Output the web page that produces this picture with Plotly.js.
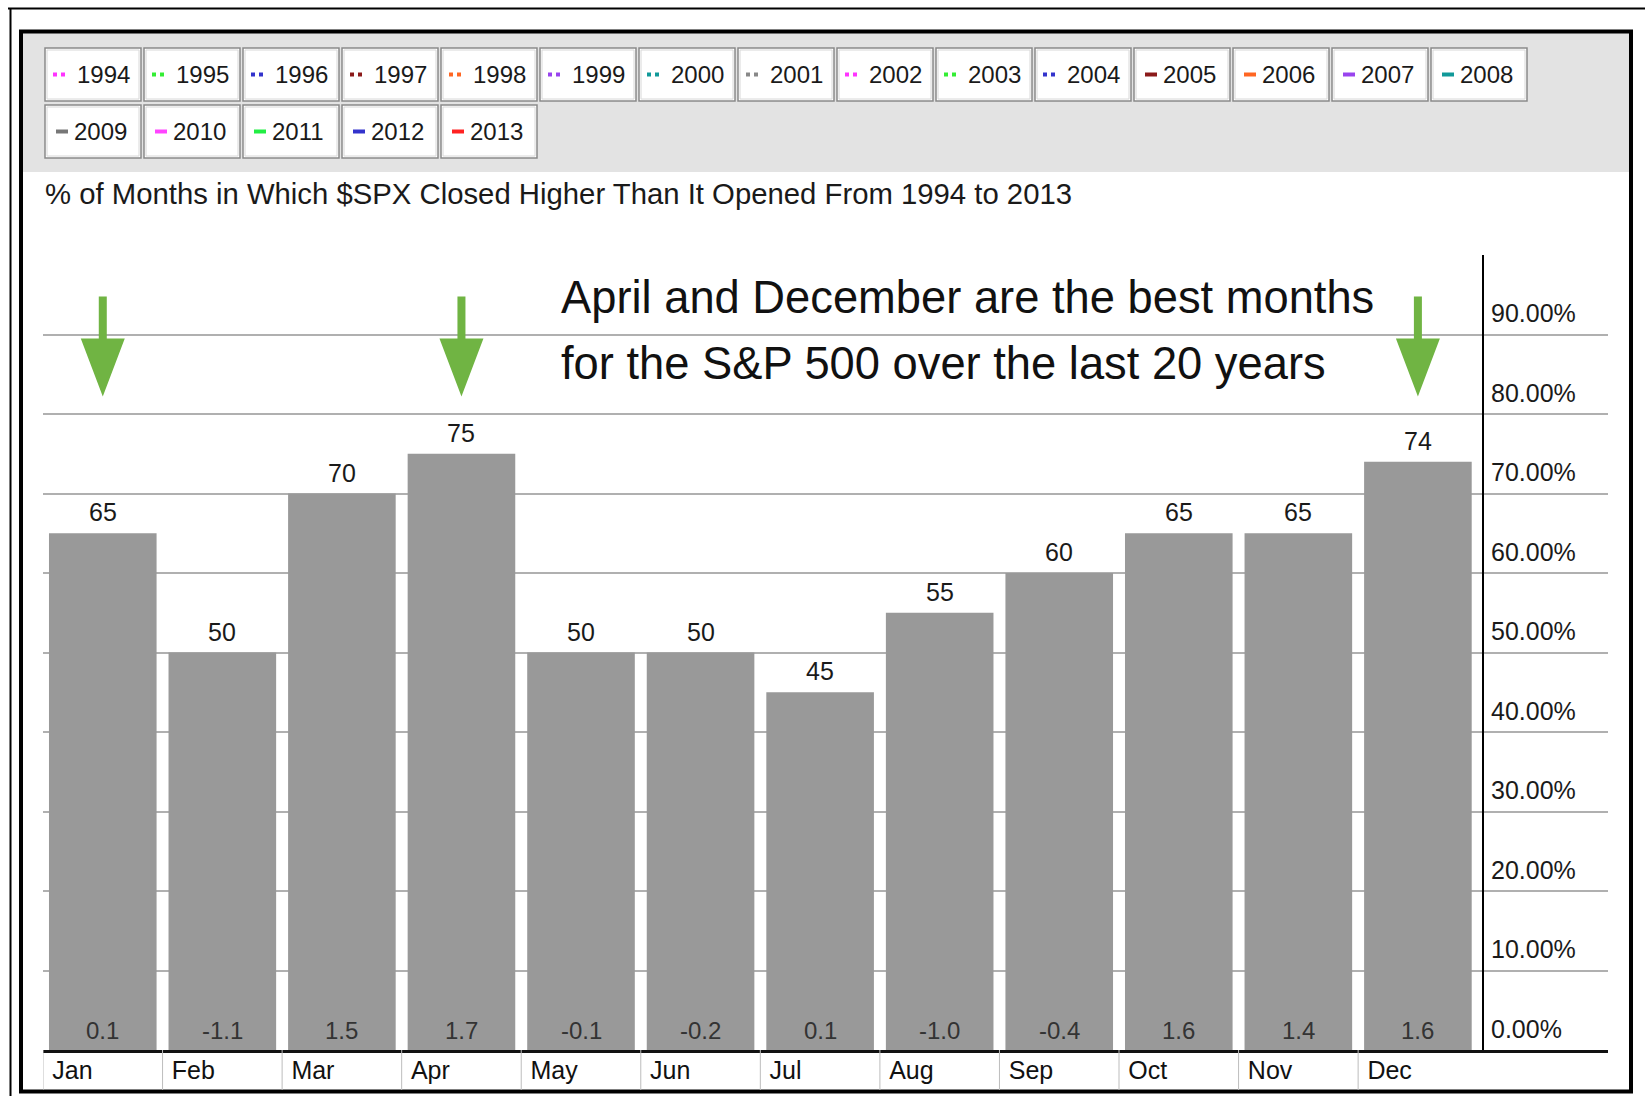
<!DOCTYPE html>
<html><head><meta charset="utf-8">
<script src="https://cdn.plot.ly/plotly-3.0.1.min.js"></script>
<style>html,body{margin:0;padding:0;background:#fff;} #chart{width:1645px;height:1096px;}</style>
</head><body><div id="chart"></div>
<script>
// ---- data ----
const months = ['Jan','Feb','Mar','Apr','May','Jun','Jul','Aug','Sep','Oct','Nov','Dec'];
const pctHigher = [65,50,70,75,50,50,45,55,60,65,65,74];
const avgChange = [0.1,-1.1,1.5,1.7,-0.1,-0.2,0.1,-1.0,-0.4,1.6,1.4,1.6];
const yTickVals = [0,10,20,30,40,50,60,70,80,90];
const yTickText = yTickVals.map(v => v.toFixed(2) + '%');
const legendYears = ['1994','1995','1996','1997','1998','1999','2000','2001','2002','2003','2004','2005','2006','2007','2008','2009','2010','2011','2012','2013'];
const legendColors = ['#ff33ff','#33ee33','#3333cc','#8b1a1a','#ff6622','#9944ee','#119999','#888888','#ff33ff','#33ee33','#3333cc','#8b1a1a','#ff6622','#9944ee','#119999','#777777','#ff44ff','#22ee44','#3333cc','#ff2222'];
const legendStyles = ['dot','dot','dot','dot','dot','dot','dot','dot','dot','dot','dot','solid','solid','solid','solid','solid','solid','solid','solid','solid'];
const arrowMonths = ['Jan','Apr','Dec'];
const titleText = '% of Months in Which $SPX Closed Higher Than It Opened From 1994 to 2013';
const noteLines = ['April and December are the best months','for the S&amp;P 500 over the last 20 years'];

// ---- geometry helpers ----
const W=1645,H=1096,L=43,R=37,T=255,B=46;
const PW=W-L-R, PH=H-T-B;
const px = x => (x-L)/PW;
const py = y => (H-B-y)/PH;
const FONT = 'Liberation Sans, Arial, Helvetica, sans-serif';

const shapes = [];
const annotations = [];

// outer thin lines
shapes.push({type:'line',xref:'paper',yref:'paper',x0:px(8),x1:px(1645),y0:py(8.5),y1:py(8.5),line:{color:'#000',width:2}});
shapes.push({type:'line',xref:'paper',yref:'paper',x0:px(10.5),x1:px(10.5),y0:py(8),y1:py(1096),line:{color:'#000',width:2}});
// legend band
shapes.push({type:'rect',xref:'paper',yref:'paper',x0:px(22),x1:px(1629),y0:py(33),y1:py(172),fillcolor:'#e3e3e3',line:{width:0},layer:'below'});
// thick frame
shapes.push({type:'rect',xref:'paper',yref:'paper',x0:px(21),x1:px(1631),y0:py(31.5),y1:py(1091.5),line:{color:'#000',width:4}});

// legend boxes
legendYears.forEach((yr,i)=>{
  const row = i<15?0:1, col = i<15?i:i-15;
  const x0 = 45 + 99*col;
  const y0 = row===0?48:105, y1 = row===0?101:158;
  const yc = (y0+y1)/2;
  shapes.push({type:'rect',xref:'paper',yref:'paper',x0:px(x0),x1:px(x0+96),y0:py(y0),y1:py(y1),fillcolor:'#ffffff',line:{color:'#8a8a8a',width:1.5}});
  shapes.push({type:'rect',xref:'paper',yref:'paper',x0:px(x0+2),x1:px(x0+94),y0:py(y0+2),y1:py(y1-2),fillcolor:'rgba(0,0,0,0)',line:{color:'#d8d8d8',width:1}});
  let tx;
  if(legendStyles[i]==='dot'){
    shapes.push({type:'rect',xref:'paper',yref:'paper',x0:px(x0+8),x1:px(x0+12),y0:py(yc-2),y1:py(yc+2),fillcolor:legendColors[i],line:{width:0}});
    shapes.push({type:'rect',xref:'paper',yref:'paper',x0:px(x0+16),x1:px(x0+20),y0:py(yc-2),y1:py(yc+2),fillcolor:legendColors[i],line:{width:0}});
    tx = x0+30;
  } else {
    shapes.push({type:'rect',xref:'paper',yref:'paper',x0:px(x0+11),x1:px(x0+23),y0:py(yc-2),y1:py(yc+2),fillcolor:legendColors[i],line:{width:0}});
    tx = x0+27;
  }
  annotations.push({xref:'paper',yref:'paper',x:px(tx),y:py(yc),xanchor:'left',yanchor:'middle',text:yr,showarrow:false,font:{family:FONT,size:24,color:'#1a1a1a'}});
});

// category separators below x axis
months.forEach((m,i)=>{
  shapes.push({type:'line',xref:'x',yref:'paper',x0:i-0.5,x1:i-0.5,y0:0,y1:py(1090),line:{color:'#bdbdbd',width:1}});
});

// green arrows
arrowMonths.forEach(m=>{
  shapes.push({type:'path',xref:'x',yref:'y',xsizemode:'pixel',ysizemode:'pixel',xanchor:months.indexOf(m),yanchor:90,
    path:'M-4,38 L4,38 L4,-4 L22,-4 L0,-62 L-22,-4 L-4,-4 Z',fillcolor:'#70b443',line:{width:0}});
});

// bar value labels
months.forEach((m,i)=>{
  annotations.push({x:m,y:pctHigher[i],text:String(pctHigher[i]),showarrow:false,yanchor:'middle',yshift:21,font:{family:FONT,size:25,color:'#1a1a1a'}});
  annotations.push({x:m,y:0,text:avgChange[i].toFixed(1),showarrow:false,yanchor:'middle',yshift:20,font:{family:FONT,size:24,color:'#333333'}});
});

// note (two lines)
const noteY = [297, 363];
noteLines.forEach((t,k)=>{
  annotations.push({xref:'paper',yref:'paper',x:px(559),y:py(noteY[k]),xanchor:'left',yanchor:'middle',align:'left',text:t,showarrow:false,font:{family:FONT,size:45.3,color:'#111'}});
});

const data = [{
  type:'bar', x:months, y:pctHigher,
  marker:{color:'#999999',line:{width:0}},
  hoverinfo:'none', showlegend:false
}];

const layout = {
  width:W, height:H,
  margin:{l:L,r:R,t:T,b:B,pad:0},
  paper_bgcolor:'#ffffff', plot_bgcolor:'rgba(0,0,0,0)',
  showlegend:false,
  bargap:0.1,
  title:{text:titleText,font:{family:FONT,size:29.3,color:'#1a1a1a'},x:45/W,xref:'container',xanchor:'left',y:1-194/H,yref:'container',yanchor:'middle'},
  xaxis:{type:'category',range:[-0.5,12.59],showline:true,linecolor:'#111',linewidth:3,ticks:'',showgrid:false,zeroline:false,
    tickfont:{family:FONT,size:25,color:'#111'},ticklabelposition:'outside right',ticklabelshift:-52,ticklabelstandoff:-4,fixedrange:true},
  yaxis:{range:[0,100],anchor:'free',position:(1483-L)/PW,side:'right',tickvals:yTickVals,ticktext:yTickText,
    showline:true,linecolor:'#000',linewidth:2,showgrid:true,gridcolor:'#b0b0b0',gridwidth:2,zeroline:false,ticks:'',
    tickfont:{family:FONT,size:25,color:'#1a1a1a'},ticklabelshift:-21,ticklabelstandoff:2,fixedrange:true},
  shapes:shapes,
  annotations:annotations
};

Plotly.newPlot('chart',data,layout,{displayModeBar:false,staticPlot:true});
</script>
</body></html>
